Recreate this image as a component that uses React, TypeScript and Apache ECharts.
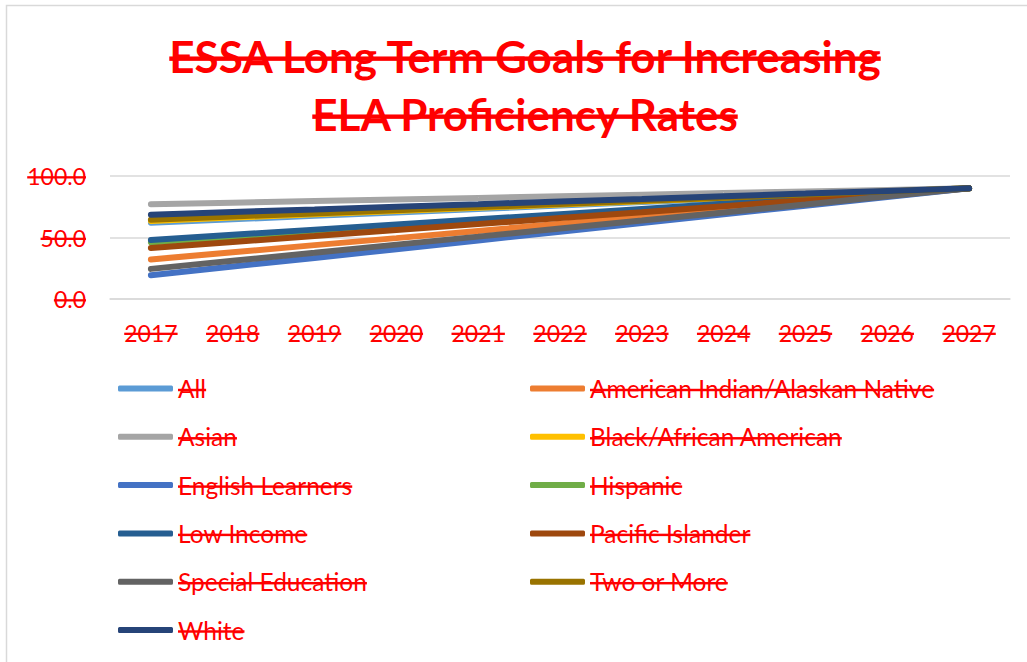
import React, { useEffect, useRef } from "react";
import * as echarts from "echarts";

const titleText = "ESSA Long Term Goals for Increasing\nELA Proficiency Rates";
const years = ["2017", "2018", "2019", "2020", "2021", "2022", "2023", "2024", "2025", "2026", "2027"];

const seriesNames = [
  "All",
  "American Indian/Alaskan Native",
  "Asian",
  "Black/African American",
  "English Learners",
  "Hispanic",
  "Low Income",
  "Pacific Islander",
  "Special Education",
  "Two or More",
  "White",
];

const allValues = [62.0, 64.8, 67.6, 70.4, 73.2, 76.0, 78.8, 81.6, 84.4, 87.2, 90.0];
const americanIndianValues = [32.2, 38.0, 43.8, 49.5, 55.3, 61.1, 66.9, 72.7, 78.4, 84.2, 90.0];
const asianValues = [77.0, 78.3, 79.6, 80.9, 82.2, 83.5, 84.8, 86.1, 87.4, 88.7, 90.0];
const blackValues = [63.5, 66.2, 68.8, 71.5, 74.1, 76.8, 79.4, 82.1, 84.7, 87.4, 90.0];
const englishLearnersValues = [19.3, 26.4, 33.4, 40.5, 47.6, 54.7, 61.7, 68.8, 75.9, 82.9, 90.0];
const hispanicValues = [46.0, 50.4, 54.8, 59.2, 63.6, 68.0, 72.4, 76.8, 81.2, 85.6, 90.0];
const lowIncomeValues = [48.0, 52.2, 56.4, 60.6, 64.8, 69.0, 73.2, 77.4, 81.6, 85.8, 90.0];
const pacificIslanderValues = [41.5, 46.4, 51.2, 56.1, 60.9, 65.8, 70.6, 75.5, 80.3, 85.2, 90.0];
const specialEducationValues = [24.5, 31.1, 37.6, 44.2, 50.7, 57.3, 63.8, 70.4, 76.9, 83.5, 90.0];
const twoOrMoreValues = [64.5, 67.1, 69.6, 72.2, 74.7, 77.3, 79.8, 82.4, 84.9, 87.5, 90.0];
const whiteValues = [68.5, 70.7, 72.8, 75.0, 77.1, 79.3, 81.4, 83.6, 85.7, 87.9, 90.0];

const seriesValues = [
  allValues,
  americanIndianValues,
  asianValues,
  blackValues,
  englishLearnersValues,
  hispanicValues,
  lowIncomeValues,
  pacificIslanderValues,
  specialEducationValues,
  twoOrMoreValues,
  whiteValues,
];

const seriesColors = [
  "#5B9BD5",
  "#ED7D31",
  "#A5A5A5",
  "#FFC000",
  "#4472C4",
  "#70AD47",
  "#255E91",
  "#9E480E",
  "#636363",
  "#997300",
  "#264478",
];

const FONT = "Lato, 'Noto Sans', sans-serif";
const RED = "#FF0000";

export default function App() {
  const ref = useRef<HTMLDivElement>(null);

  useEffect(() => {
    if (!ref.current) return;
    const chart = echarts.init(ref.current, undefined, { renderer: "svg" });

    const leftNames = seriesNames.filter((_, i) => i % 2 === 0);
    const rightNames = seriesNames.filter((_, i) => i % 2 === 1);

    const legendCommon = {
      orient: "vertical",
      itemWidth: 55,
      itemHeight: 6,
      itemGap: 23.3,
      icon: "roundRect",
      top: 371,
      textStyle: { color: RED, fontSize: 24.5, fontFamily: FONT, lineHeight: 24 },
    };

    chart.setOption({
      animation: false,
      backgroundColor: "#ffffff",
      title: {
        text: titleText,
        left: 520,
        top: 22,
        textAlign: "center",
        textStyle: {
          color: RED,
          fontSize: 44,
          fontWeight: "bold",
          fontFamily: FONT,
          lineHeight: 58,
        },
      },
      graphic: [
        {
          type: "rect",
          silent: true,
          shape: { x: 6.5, y: 5.5, width: 1200, height: 800 },
          style: { fill: "none", stroke: "#d9d9d9", lineWidth: 1.5 },
        },
      ],
      legend: [
        { ...legendCommon, left: 113, data: leftNames },
        { ...legendCommon, left: 525, data: rightNames },
      ],
      grid: { left: 110, right: 17, top: 176, height: 123, containLabel: false },
      xAxis: {
        type: "category",
        data: years,
        boundaryGap: true,
        axisLine: { show: true, lineStyle: { color: "#d9d9d9", width: 1.5 } },
        axisTick: { show: false },
        axisLabel: { color: RED, fontSize: 23, fontFamily: FONT, margin: 22 },
      },
      yAxis: {
        type: "value",
        min: 0,
        max: 100,
        interval: 50,
        axisLine: { show: false },
        axisTick: { show: false },
        splitLine: { lineStyle: { color: "#d9d9d9", width: 1.5 } },
        axisLabel: {
          color: RED,
          fontSize: 23,
          fontFamily: FONT,
          margin: 24,
          formatter: (v: number) => v.toFixed(1),
        },
      },
      series: seriesNames.map((name, i) => ({
        name,
        type: "line",
        data: seriesValues[i],
        symbol: "none",
        color: seriesColors[i],
        lineStyle: { width: 6, cap: "round", color: seriesColors[i] },
      })),
    });

    return () => chart.dispose();
  }, []);

  return (
    <>
      <style>{`#chart-root svg text { text-decoration: line-through; text-decoration-thickness: 2px; }
#chart-root svg text[style*="bold"] { text-decoration-thickness: 3px; }`}</style>
      <div
        id="chart-root"
        ref={ref}
        style={{ position: "fixed", left: 0, top: 0, width: 1027, height: 662 }}
      />
    </>
  );
}
